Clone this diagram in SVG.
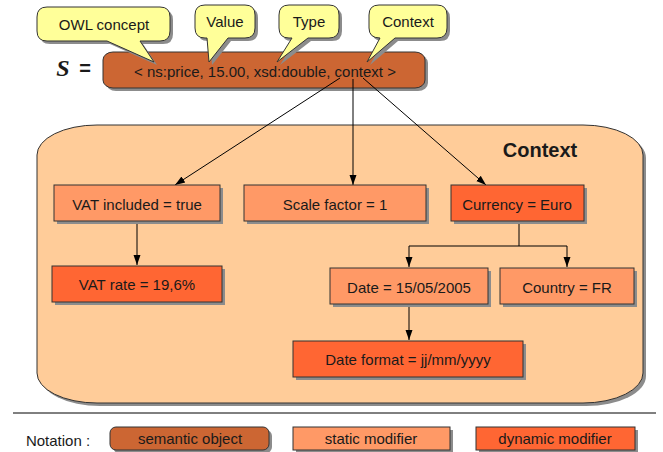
<svg xmlns="http://www.w3.org/2000/svg" width="663" height="452" viewBox="0 0 663 452">
<style>
text{font-family:"Liberation Sans",Arial,sans-serif;fill:#1a1a1a;text-anchor:middle;dominant-baseline:central}
.lbl{font-size:15px}
.leg{font-size:15px}
.sh{fill:#8c8c8c}
.call{fill:#FFFF99;stroke:#333;stroke-width:1}
.sem{fill:#CC6633;stroke:#333;stroke-width:1}
.stat{fill:#FF9966;stroke:#333;stroke-width:1}
.dyn{fill:#FF6633;stroke:#333;stroke-width:1}
.cn{stroke:#000;stroke-width:1;fill:none}
</style>
<defs>
<marker id="arr" viewBox="0 0 10 10" refX="10" refY="5" markerWidth="10" markerHeight="10" markerUnits="userSpaceOnUse" orient="auto">
<path d="M0,1.5 L10,5 L0,8.5 Z" fill="#000"/>
</marker>
<path id="c-owl" d="M47,7 H160 Q170,7 170,17 V31 Q170,41 160,41 H140 L154,62 L107,41 H47 Q37,41 37,31 V17 Q37,7 47,7 Z"/>
<path id="c-val" d="M205,5 H245 Q255,5 255,15 V28 Q255,38 245,38 H228 L209,62 L207,38 H205 Q195,38 195,28 V15 Q195,5 205,5 Z"/>
<path id="c-typ" d="M289,5 H329 Q339,5 339,15 V28 Q339,38 329,38 H308 L277,62 L292,38 H289 Q279,38 279,28 V15 Q279,5 289,5 Z"/>
<path id="c-ctx" d="M379,5 H437 Q447,5 447,15 V28 Q447,38 437,38 H395 L367,62 L380,38 Q369,38 369,28 V15 Q369,5 379,5 Z"/>
<path id="ctr" d="M97,125 H583 A60,30 0 0 1 643,155 V373 A60,30 0 0 1 583,403 H97 A60,30 0 0 1 37,373 V155 A60,30 0 0 1 97,125 Z"/>
</defs>

<g id="context-container">
<use href="#ctr" class="sh" transform="translate(3,3)"/>
<use href="#ctr" fill="#FFCC99" stroke="#333" stroke-width="1"/>
<text x="540" y="150" style="font-size:20px;font-weight:bold">Context</text>
</g>

<g id="s-label">
<text x="63" y="68" style="font-family:'Liberation Serif',serif;font-size:24px;font-weight:bold;font-style:italic">S</text>
<text x="85" y="68" style="font-size:20px;font-weight:bold">=</text>
</g>

<g id="semantic-object">
<rect x="106" y="55" width="322" height="36" rx="10" ry="8" class="sh"/>
<rect x="103" y="52" width="322" height="36" rx="10" ry="8" class="sem"/>
<text x="265" y="71" style="font-size:15px">&lt; ns:price, 15.00, xsd:double, context &gt;</text>
</g>

<g id="callout-owl">
<use href="#c-owl" class="sh" transform="translate(3,3)"/>
<use href="#c-owl" class="call"/>
<text x="104" y="24" class="lbl">OWL concept</text>
</g>
<g id="callout-value">
<use href="#c-val" class="sh" transform="translate(3,3)"/>
<use href="#c-val" class="call"/>
<text x="225" y="21" class="lbl">Value</text>
</g>
<g id="callout-type">
<use href="#c-typ" class="sh" transform="translate(3,3)"/>
<use href="#c-typ" class="call"/>
<text x="309" y="21" class="lbl">Type</text>
</g>
<g id="callout-context">
<use href="#c-ctx" class="sh" transform="translate(3,3)"/>
<use href="#c-ctx" class="call"/>
<text x="408" y="21" class="lbl">Context</text>
</g>

<g id="connectors">
<line x1="340" y1="78" x2="175" y2="185" class="cn" marker-end="url(#arr)"/>
<line x1="353" y1="79" x2="353" y2="185" class="cn" marker-end="url(#arr)"/>
<line x1="363" y1="78" x2="486" y2="185" class="cn" marker-end="url(#arr)"/>
<line x1="137" y1="222" x2="137" y2="265" class="cn" marker-end="url(#arr)"/>
<polyline points="519,222 519,246 409,246 409,267" class="cn" marker-end="url(#arr)"/>
<polyline points="519,246 567,246 567,267" class="cn" marker-end="url(#arr)"/>
<line x1="409" y1="304" x2="409" y2="340" class="cn" marker-end="url(#arr)"/>
</g>

<g id="vat-included">
<rect x="57" y="188" width="166" height="36" class="sh"/>
<rect x="54" y="185" width="166" height="36" class="stat"/>
<text x="137" y="204" class="lbl">VAT included = true</text>
</g>
<g id="scale-factor">
<rect x="247" y="188" width="182" height="36" class="sh"/>
<rect x="244" y="185" width="182" height="36" class="stat"/>
<text x="335" y="204" class="lbl">Scale factor = 1</text>
</g>
<g id="currency">
<rect x="454" y="188" width="133" height="36" class="sh"/>
<rect x="451" y="185" width="133" height="36" class="dyn"/>
<text x="517" y="204" class="lbl">Currency = Euro</text>
</g>
<g id="vat-rate">
<rect x="55" y="269" width="170" height="36" class="sh"/>
<rect x="52" y="266" width="170" height="36" class="dyn"/>
<text x="137" y="284" class="lbl">VAT rate = 19,6%</text>
</g>
<g id="date">
<rect x="333" y="271" width="158" height="36" class="sh"/>
<rect x="330" y="268" width="158" height="36" class="stat"/>
<text x="409" y="287" class="lbl">Date = 15/05/2005</text>
</g>
<g id="country">
<rect x="503" y="271" width="134" height="36" class="sh"/>
<rect x="500" y="268" width="134" height="36" class="stat"/>
<text x="567" y="287" class="lbl">Country = FR</text>
</g>
<g id="date-format">
<rect x="296" y="344" width="230" height="36" class="sh"/>
<rect x="293" y="341" width="230" height="36" class="dyn"/>
<text x="408" y="359" class="lbl">Date format = jj/mm/yyyy</text>
</g>

<g id="separator">
<line x1="13" y1="413" x2="656" y2="413" stroke="#000" stroke-width="1"/>
</g>

<g id="notation">
<text x="58" y="440" class="leg">Notation :</text>
<rect x="113" y="430" width="159" height="23" rx="6" class="sh"/>
<rect x="110" y="427" width="159" height="23" rx="6" class="sem"/>
<text x="190" y="438" class="leg">semantic object</text>
<rect x="296" y="430" width="157" height="23" class="sh"/>
<rect x="293" y="427" width="157" height="23" class="stat"/>
<text x="371" y="438" class="leg">static modifier</text>
<rect x="479" y="430" width="159" height="23" class="sh"/>
<rect x="476" y="427" width="159" height="23" class="dyn"/>
<text x="555" y="438" class="leg">dynamic modifier</text>
</g>
</svg>
